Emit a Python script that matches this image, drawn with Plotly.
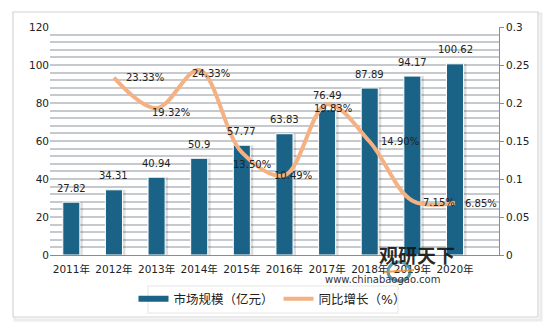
import plotly.graph_objects as go

years = ["2011年", "2012年", "2013年", "2014年", "2015年", "2016年", "2017年", "2018年", "2019年", "2020年"]
market_size = [27.82, 34.31, 40.94, 50.9, 57.77, 63.83, 76.49, 87.89, 94.17, 100.62]
growth = [None, 0.2333, 0.1932, 0.2433, 0.1350, 0.1049, 0.1983, 0.1490, 0.0715, 0.0685]
# label offsets (px) for growth labels
g_dx = [0, 31, 14, 12, 10, 9, 6, 30, 27, 26]
g_dy = [0, 0, -4, -3, -12, 0, -4, 0, -2, -1]

BAR = "#1B6386"
LINE = "#F4B183"
FONT = "DejaVu Sans, Noto Sans CJK SC, sans-serif"

fig = go.Figure()
# soft shadow behind bars
fig.add_trace(go.Bar(x=years, y=market_size, marker=dict(color="rgba(0,0,0,0.13)", line=dict(width=0)),
                     width=0.47, offset=-0.2, showlegend=False, hoverinfo="skip"))
fig.add_trace(go.Bar(x=years, y=market_size, marker=dict(color=BAR, line=dict(color="white", width=1)),
                     width=0.4, offset=-0.2, showlegend=False, name="市场规模（亿元）"))
fig.add_trace(go.Scatter(x=years, y=growth, yaxis="y2", mode="lines",
                         line=dict(color=LINE, width=4, shape="spline", smoothing=1),
                         showlegend=False, name="同比增长（%）"))
# legend entries
fig.add_trace(go.Scatter(x=[None], y=[None], mode="lines", line=dict(color=BAR, width=6), name="市场规模（亿元）"))
fig.add_trace(go.Scatter(x=[None], y=[None], mode="lines", line=dict(color=LINE, width=4), name="同比增长（%）"))

ann = []
for c, v in zip(years, market_size):
    ann.append(dict(x=c, y=v, xref="x", yref="y", text=str(v), showarrow=False, yshift=14,
                    font=dict(size=10, color="#222", family=FONT)))
for c, v, dx, dy in zip(years, growth, g_dx, g_dy):
    if v is None:
        continue
    ann.append(dict(x=c, y=v, xref="x", yref="y2", text=f"{v*100:.2f}%", showarrow=False,
                    xshift=dx, yshift=dy, font=dict(size=10, color="#222", family=FONT)))


def px(x):
    return (x - 50) / 449


def py(y):
    return (255 - y) / 228


# watermark
ann.append(dict(x=px(457), y=py(270), xref="paper", yref="paper", text="<b>观研天下</b>",
                showarrow=False, font=dict(size=19, color="rgba(20,20,20,0.92)", family="Noto Sans CJK SC")))
ann.append(dict(x=px(442), y=py(287), xref="paper", yref="paper", text="www.chinabaogao.com",
                showarrow=False, font=dict(size=10, color="#333", family=FONT)))

shapes = [
    dict(type="rect", xref="paper", yref="paper", x0=px(15), x1=px(541), y0=py(14), y1=py(320),
         line=dict(color="#EBEBEB", width=3), layer="below"),
    dict(type="rect", xref="paper", yref="paper", x0=px(13), x1=px(538), y0=py(12), y1=py(317),
         line=dict(color="#D4D4D4", width=1.2), fillcolor="white", layer="below"),
    dict(type="rect", xref="paper", yref="paper", x0=px(148), x1=px(398), y0=py(286), y1=py(313),
         line=dict(color="#F2F2F2", width=2), fillcolor="white", layer="below"),
    # watermark logo
    dict(type="circle", xref="paper", yref="paper", x0=px(388), x1=px(410), y0=py(262), y1=py(281),
         line=dict(color="rgba(40,120,140,0.75)", width=3), layer="above"),
    dict(type="line", xref="paper", yref="paper", x0=px(384), x1=px(414), y0=py(272), y1=py(270),
         line=dict(color="rgba(240,140,40,0.8)", width=2), layer="above"),
]

fig.update_layout(
    width=556, height=332,
    margin=dict(l=50, r=57, t=27, b=77, autoexpand=False),
    paper_bgcolor="white", plot_bgcolor="#EBF1F7",
    font=dict(family=FONT, size=10, color="#222"),
    barmode="overlay",
    xaxis=dict(type="category", showgrid=False, showline=True, linecolor="#8C8C8C", linewidth=1,
               ticks="", tickfont=dict(size=10.5), automargin=False, ticklabelstandoff=4),
    yaxis=dict(range=[0, 120], dtick=20, showgrid=True, gridcolor="#C6CACE", gridwidth=1.5,
               minor=dict(dtick=4, showgrid=True, gridcolor="#C6CACE", gridwidth=1.5),
               zeroline=False, showline=False, ticks="", tickfont=dict(size=10.5), automargin=False),
    yaxis2=dict(range=[0, 0.3], dtick=0.05, overlaying="y", side="right", showgrid=False,
                showline=True, linecolor="#8C8C8C", linewidth=1, ticks="outside", ticklen=4,
                tickcolor="#8C8C8C", zeroline=False, tickfont=dict(size=10.5), automargin=False),
    legend=dict(orientation="h", x=px(272), xanchor="center", y=py(299), yanchor="middle",
                bgcolor="rgba(0,0,0,0)", font=dict(size=12.5, family=FONT), itemwidth=30,
                tracegroupgap=0),
    annotations=ann, shapes=shapes,
)

fig.write_html("out.html")
